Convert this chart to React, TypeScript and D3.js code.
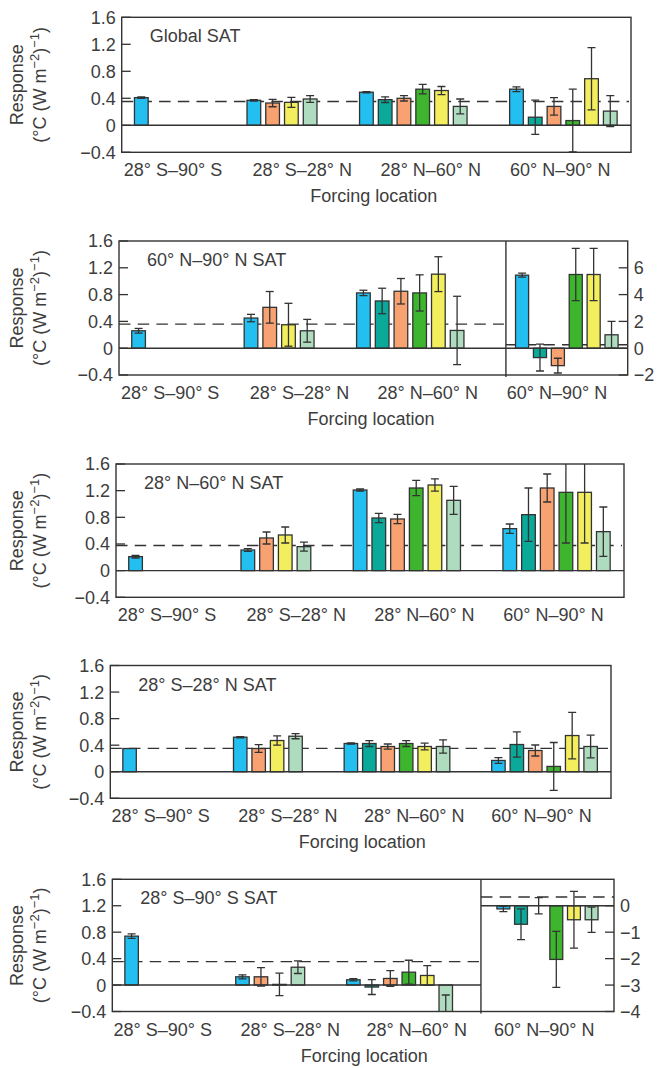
import React, { useRef, useEffect } from 'react';
import * as d3 from 'd3';

// forcing regions (x groups) and the six forcing experiments (bar colours)
const forcingLocations = ['28° S–90° S', '28° S–28° N', '28° N–60° N', '60° N–90° N'];
const seriesColors = ['#22bff0', '#0aa99a', '#f8a272', '#3db52e', '#f3ee5e', '#afdcbf'];
// which experiments exist for each forcing location
const groupSeries = [[0], [0, 2, 4, 5], [0, 1, 2, 3, 4, 5], [0, 1, 2, 3, 4, 5]];
const leftTicks = [-0.4, 0, 0.4, 0.8, 1.2, 1.6];

// Global SAT
const globalValues = [[0.41], [0.37, 0.33, 0.34, 0.39], [0.49, 0.38, 0.4, 0.535, 0.515, 0.28], [0.535, 0.12, 0.28, 0.07, 0.69, 0.21]];
const globalErrors = [[0.01], [0.01, 0.055, 0.074, 0.05], [0.01, 0.042, 0.04, 0.07, 0.06, 0.11], [0.035, 0.253, 0.13, 0.465, 0.46, 0.23]];

// 60N-90N SAT (last group read on the right axis)
const arcticValues = [[0.26], [0.45, 0.61, 0.35, 0.26], [0.825, 0.705, 0.85, 0.825, 1.105, 0.265], [5.45, -0.7, -1.3, 5.5, 5.5, 1.0]];
const arcticErrors = [[0.035], [0.055, 0.236, 0.32, 0.17], [0.04, 0.19, 0.19, 0.27, 0.26, 0.51], [0.15, 1.0, 0.55, 1.95, 1.95, 1.0]];
const arcticRightTicks = [-2, 0, 2, 4, 6];

// 28N-60N SAT
const midlatValues = [[0.21], [0.31, 0.49, 0.535, 0.36], [1.21, 0.79, 0.775, 1.24, 1.285, 1.055], [0.63, 0.84, 1.24, 1.175, 1.175, 0.585]];
const midlatErrors = [[0.02], [0.02, 0.09, 0.12, 0.067], [0.015, 0.07, 0.07, 0.115, 0.092, 0.21], [0.07, 0.4, 0.21, 0.76, 0.76, 0.37]];

// 28S-28N SAT
const tropicsValues = [[0.35], [0.52, 0.35, 0.47, 0.535], [0.425, 0.425, 0.38, 0.425, 0.38, 0.38], [0.17, 0.41, 0.32, 0.08, 0.545, 0.38]];
const tropicsErrors = [[0], [0.01, 0.058, 0.07, 0.038], [0.01, 0.045, 0.038, 0.045, 0.05, 0.1], [0.043, 0.19, 0.083, 0.36, 0.35, 0.17]];

// 28S-90S SAT (last group read on the right axis)
const southValues = [[0.74], [0.125, 0.125, 0.01, 0.27], [0.08, -0.03, 0.1, 0.195, 0.145, -0.6], [-0.12, -0.7, 0, -2.03, -0.53, -0.53]];
const southErrors = [[0.034], [0.03, 0.14, 0.17, 0.095], [0.018, 0.113, 0.118, 0.18, 0.15, 0.45], [0.1, 0.58, 0.31, 1.06, 1.07, 0.48]];
const southRightTicks = [0, -1, -2, -3, -4];

// reference (dashed) responses
const refLeft = [0.352, 0.36, 0.377, 0.352, 0.354];
const refRight = [null, 0.26, null, null, 0.33];

const panels = [
  { title: 'Global SAT', values: globalValues, errors: globalErrors, box: [121.7, 17.3, 631, 152.3], xTitle: true },
  { title: '60° N–90° N SAT', values: arcticValues, errors: arcticErrors, box: [119, 241, 627.7, 375], xTitle: true,
    right: { domain: [-2, 8], ticks: arcticRightTicks, divider: 19.97 } },
  { title: '28° N–60° N SAT', values: midlatValues, errors: midlatErrors, box: [116, 464, 624, 597.3], xTitle: false },
  { title: '28° S–28° N SAT', values: tropicsValues, errors: tropicsErrors, box: [110.3, 665.5, 611, 798.3], xTitle: true },
  { title: '28° S–90° S SAT', values: southValues, errors: southErrors, box: [112.3, 879.3, 614, 1011.5], xTitle: true,
    right: { domain: [-4, 1], ticks: southRightTicks, divider: 19.27 } },
];

const groupStart = [0, 6, 12, 20];
const labelSlot = [2.05, 8.95, 15.8, 22.7];
const ink = '#333';
const textColor = '#3d3d3d';
const font = "'Liberation Sans', Arial, sans-serif";

const fmt = (t) => (t < 0 ? '\u2212' + Math.abs(t) : String(t));

const App = () => {
  const svgRef = useRef(null);

  useEffect(() => {
    document.body.style.margin = '0';
    const svg = d3.select(svgRef.current);
    svg.selectAll('*').remove();

    panels.forEach((p, i) => {
      const [L, T, R, B] = p.box;
      const y = d3.scaleLinear().domain([-0.4, 1.6]).range([B, T]);
      const x = d3.scaleLinear().domain([-0.68, 26.47]).range([L, R]);
      const step = x(1) - x(0);
      const bw = step * 0.73;
      const divX = p.right ? x(p.right.divider) : R;
      const yR = p.right ? d3.scaleLinear().domain(p.right.domain).range([B, T]) : null;
      let xs = null;
      if (p.right) {
        const mid = (divX + R) / 2;
        const s2 = step * 0.955;
        xs = d3.scaleBand().domain(d3.range(6)).range([mid - 3 * s2, mid + 3 * s2]).paddingInner(0.27).paddingOuter(0.135);
      }

      const g = svg.append('g').attr('font-family', font).attr('fill', textColor);
      const clipId = `clip-${i}`;
      g.append('clipPath').attr('id', clipId)
        .append('rect').attr('x', L).attr('y', T).attr('width', R - L).attr('height', B - T);

      // dashed reference lines
      const dash = (x1, x2, yy) => g.append('line')
        .attr('x1', x1).attr('x2', x2).attr('y1', yy).attr('y2', yy)
        .attr('stroke', ink).attr('stroke-width', 1.4).attr('stroke-dasharray', '11.5 7.2');
      dash(L, divX - 2, y(refLeft[i]));
      if (p.right) dash(divX, R, yR(refRight[i]));

      const marks = g.append('g').attr('clip-path', `url(#${clipId})`);

      groupSeries.forEach((series, gi) => {
        const sectioned = p.right && gi === 3;
        const yy = sectioned ? yR : y;
        series.forEach((s, k) => {
          const v = p.values[gi][k];
          const e = p.errors[gi][k];
          const bx = sectioned ? xs(s) : x(groupStart[gi] + k);
          const w = sectioned ? xs.bandwidth() : bw;
          marks.append('rect')
            .attr('x', bx).attr('width', w)
            .attr('y', Math.min(yy(v), yy(0)))
            .attr('height', Math.abs(yy(v) - yy(0)))
            .attr('fill', seriesColors[s])
            .attr('stroke', ink).attr('stroke-width', 1.3);
        });
      });

      // zero lines
      g.append('line').attr('x1', L).attr('x2', divX).attr('y1', y(0)).attr('y2', y(0))
        .attr('stroke', ink).attr('stroke-width', 1.4);
      if (p.right) {
        g.append('line').attr('x1', divX).attr('x2', R).attr('y1', yR(0)).attr('y2', yR(0))
          .attr('stroke', ink).attr('stroke-width', 1.4);
      }

      // error bars
      groupSeries.forEach((series, gi) => {
        const sectioned = p.right && gi === 3;
        const yy = sectioned ? yR : y;
        series.forEach((s, k) => {
          const v = p.values[gi][k];
          const e = p.errors[gi][k];
          if (!e) return;
          const cx = sectioned ? xs(s) + xs.bandwidth() / 2 : x(groupStart[gi] + k) + bw / 2;
          const eb = marks.append('g').attr('stroke', ink).attr('stroke-width', 1.3);
          eb.append('line').attr('x1', cx).attr('x2', cx).attr('y1', yy(v - e)).attr('y2', yy(v + e));
          [v - e, v + e].forEach((t) => {
            eb.append('line').attr('x1', cx - 4).attr('x2', cx + 4).attr('y1', yy(t)).attr('y2', yy(t));
          });
        });
      });

      // frame and divider
      g.append('rect').attr('x', L).attr('y', T).attr('width', R - L).attr('height', B - T)
        .attr('fill', 'none').attr('stroke', ink).attr('stroke-width', 1.4);
      if (p.right) {
        g.append('line').attr('x1', divX).attr('x2', divX).attr('y1', T).attr('y2', B + 2)
          .attr('stroke', ink).attr('stroke-width', 1.4);
      }

      // left axis
      leftTicks.forEach((t) => {
        g.append('line').attr('x1', L).attr('x2', L + 9).attr('y1', y(t)).attr('y2', y(t))
          .attr('stroke', ink).attr('stroke-width', 1.3);
        g.append('text').attr('x', L - 6).attr('y', y(t)).attr('dy', '0.36em')
          .attr('text-anchor', 'end').attr('font-size', 18).text(fmt(t));
      });

      // right axis
      if (p.right) {
        p.right.ticks.forEach((t) => {
          g.append('line').attr('x1', R - 9).attr('x2', R).attr('y1', yR(t)).attr('y2', yR(t))
            .attr('stroke', ink).attr('stroke-width', 1.3);
          g.append('text').attr('x', R + 6).attr('y', yR(t)).attr('dy', '0.36em')
            .attr('text-anchor', 'start').attr('font-size', 18).text(fmt(t));
        });
      }

      // panel title
      g.append('text').attr('x', L + 28).attr('y', T + 25).attr('font-size', 18).text(p.title);

      // x labels
      forcingLocations.forEach((lab, li) => {
        g.append('text').attr('x', x(labelSlot[li])).attr('y', B + 24)
          .attr('text-anchor', 'middle').attr('font-size', 18).text(lab);
      });
      if (p.xTitle) {
        g.append('text').attr('x', L + 252).attr('y', B + 50)
          .attr('text-anchor', 'middle').attr('font-size', 18).text('Forcing location');
      }

      // y title
      const midY = (T + B) / 2;
      g.append('text').attr('transform', `translate(23,${midY}) rotate(-90)`)
        .attr('text-anchor', 'middle').attr('font-size', 18).text('Response');
      const t2 = g.append('text').attr('transform', `translate(45.5,${midY}) rotate(-90)`)
        .attr('text-anchor', 'middle').attr('font-size', 18);
      t2.append('tspan').text('(°C (W m');
      t2.append('tspan').attr('dy', -7).attr('font-size', 13).text('\u22122');
      t2.append('tspan').attr('dy', 7).text(')');
      t2.append('tspan').attr('dy', -7).attr('font-size', 13).text('\u22121');
      t2.append('tspan').attr('dy', 7).text(')');
    });
  }, []);

  return (
    <svg ref={svgRef} width={660} height={1068}
      style={{ position: 'absolute', left: 0, top: 0, background: '#fff' }}></svg>
  );
};

export default App;
